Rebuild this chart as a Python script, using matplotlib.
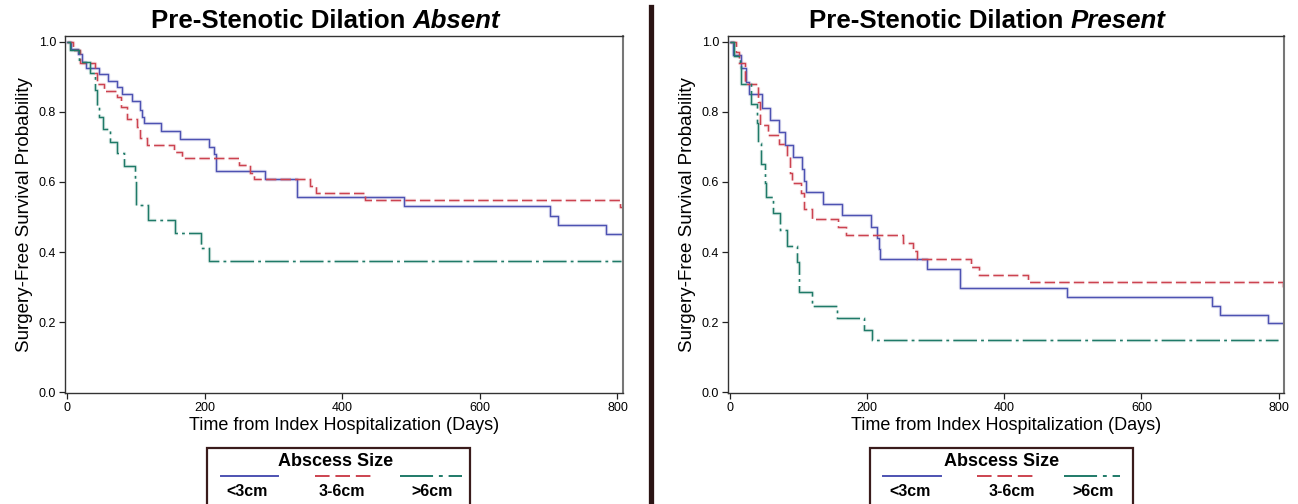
#!/usr/bin/env python3
# -*- coding: utf-8 -*-

"""
Kaplan-Meier curves: surgery-free survival by abscess size,
with and without pre-stenotic dilation
"""

import matplotlib.pyplot as plt
import matplotlib.patheffects as pe
from matplotlib.lines import Line2D
from matplotlib.patches import Rectangle

plt.rcParams['font.family'] = ['Liberation Sans', 'DejaVu Sans']

# --- data (days, survival) ---
# pre-stenotic dilation absent
absent_lt3_t = [0, 6, 15.5, 22, 28, 46, 59, 72, 80, 94.5, 105.5, 109, 111.5, 137, 164,
                206, 214, 217, 287, 334, 489, 701.5, 713, 783, 807]
absent_lt3_s = [1.0, 0.979, 0.964, 0.943, 0.926, 0.908, 0.889, 0.870, 0.850, 0.830, 0.805,
                0.784, 0.767, 0.746, 0.723, 0.700, 0.679, 0.630, 0.607, 0.556, 0.530,
                0.503, 0.478, 0.451, 0.451]
absent_3to6_t = [0, 8.7, 19.4, 41, 43.6, 54, 72.7, 78.5, 87, 101.7, 105.6, 116, 155, 167,
                 249.5, 266.5, 271, 352.6, 362, 432.6, 803, 807]
absent_3to6_s = [1.0, 0.975, 0.940, 0.910, 0.880, 0.859, 0.843, 0.814, 0.778, 0.757, 0.724,
                 0.705, 0.686, 0.669, 0.648, 0.626, 0.608, 0.588, 0.569, 0.549, 0.529, 0.529]
absent_gt6_t = [0, 4.8, 17, 33, 41, 43.6, 47, 52.3, 63, 72.7, 83.3, 98.4, 99.8, 117.7,
                156.5, 195, 207, 805]
absent_gt6_s = [1.0, 0.976, 0.941, 0.911, 0.862, 0.814, 0.786, 0.750, 0.714, 0.681, 0.645,
                0.605, 0.533, 0.492, 0.454, 0.412, 0.373, 0.373]

# pre-stenotic dilation present
present_lt3_t = [0, 4.9, 16, 22.8, 27.7, 47, 58.3, 71.4, 80.2, 92.3, 104.5, 108.4, 110.8,
                 136, 163.8, 205.6, 214.8, 217.2, 218.7, 286.7, 336, 491, 703.6, 714.7,
                 784.7, 807]
present_lt3_s = [1.0, 0.962, 0.924, 0.886, 0.850, 0.812, 0.776, 0.741, 0.705, 0.671, 0.638,
                 0.603, 0.571, 0.536, 0.505, 0.471, 0.441, 0.410, 0.380, 0.352, 0.297,
                 0.271, 0.246, 0.221, 0.197, 0.197]
present_3to6_t = [0, 8.3, 13.6, 21.9, 41.3, 43.7, 54.9, 72, 82.6, 87.5, 90, 103.5, 108, 120,
                  158, 168.6, 251.7, 267.3, 272, 352, 363, 434.8, 806, 807]
present_3to6_s = [1.0, 0.969, 0.938, 0.878, 0.829, 0.762, 0.733, 0.707, 0.671, 0.624, 0.597,
                  0.567, 0.522, 0.495, 0.471, 0.449, 0.426, 0.403, 0.379, 0.357, 0.335,
                  0.314, 0.296, 0.296]
present_gt6_t = [0, 5.8, 14.6, 16, 30.6, 39.9, 41.3, 45.2, 51, 52.5, 63.2, 72.9, 82.6, 97.2,
                 100.6, 119, 156.5, 195.4, 207.5, 799]
present_gt6_s = [1.0, 0.959, 0.938, 0.880, 0.822, 0.767, 0.710, 0.652, 0.597, 0.557, 0.510,
                 0.464, 0.416, 0.371, 0.286, 0.247, 0.212, 0.178, 0.148, 0.148]

group_labels = ['<3cm', '3-6cm', '>6cm']
x_ticks = [0, 200, 400, 600, 800]
y_ticks = [0.0, 0.2, 0.4, 0.6, 0.8, 1.0]

colors = ['#4d52b2', '#cc4350', '#1f7a68']
styles = ['-', (0, (7.5, 3.0)), (0, (17, 3.0, 2.0, 3.0))]
W, H = 1298, 504


def px(x, y):
    # pixel (from top-left) -> figure fraction
    return x / W, 1 - y / H


def km_panel(fig, rect, curves, title_main, title_it, title_x):
    ax = fig.add_axes(rect)
    for (t, s), c, ls in zip(curves, colors, styles):
        ax.step(t, s, where='post', color=c, ls=ls, lw=1.0,
                path_effects=[pe.Stroke(linewidth=2.4, foreground=c, alpha=0.2), pe.Normal()])
    ax.set_xlim(-3, 808)
    ax.set_ylim(-0.002, 1.016)
    ax.set_xticks(x_ticks)
    ax.set_yticks(y_ticks)
    ax.set_yticklabels(['%.1f' % v for v in y_ticks])
    ax.tick_params(labelsize=9, length=4, width=0.9, color='#222', pad=2.5)
    for sp in ax.spines.values():
        sp.set_color('#333333')
        sp.set_linewidth(1.0)
    ax.spines['right'].set_color('#777777')
    ax.spines['right'].set_linewidth(1.5)
    ax.set_xlabel('Time from Index Hospitalization (Days)', fontsize=13, labelpad=2)
    ax.set_ylabel('Surgery-Free Survival Probability', fontsize=13.5, labelpad=4)
    t1 = fig.text(*px(title_x, 21), title_main, fontsize=18.6, fontweight='bold',
                  ha='left', va='center')
    ax.annotate(title_it, xy=(1, 0), xycoords=t1, va='bottom', ha='left',
                fontsize=18.6, fontweight='bold', fontstyle='italic')
    return ax


def legend_box(fig, x0, x1, title_cx, samples, label_cx):
    y0 = 448
    fig.add_artist(Rectangle(px(x0, 506), (x1 - x0) / W, (506 - y0) / H,
                             fill=False, ec='#3a1c1c', lw=1.6, clip_on=False))
    fig.text(*px(title_cx, 462), 'Abscess Size', fontsize=13, fontweight='bold',
             ha='center', va='center')
    for (a, b), c, ls, lx, lab in zip(samples, colors, styles, label_cx, group_labels):
        xa, ya = px(a, 475.5)
        xb, _ = px(b, 475.5)
        fig.add_artist(Line2D([xa, xb], [ya, ya], color=c, ls=ls, lw=1.4))
        fig.text(*px(lx, 492), lab, fontsize=11.5, fontweight='bold', ha='center', va='center')


if __name__ == "__main__":
    fig = plt.figure(figsize=(W / 100, H / 100), dpi=100)

    km_panel(fig, [65 / W, 111 / H, 558 / W, 357 / H],
             [(absent_lt3_t, absent_lt3_s), (absent_3to6_t, absent_3to6_s),
              (absent_gt6_t, absent_gt6_s)],
             'Pre-Stenotic Dilation ', 'Absent', 151)
    km_panel(fig, [728 / W, 111 / H, 556 / W, 357 / H],
             [(present_lt3_t, present_lt3_s), (present_3to6_t, present_3to6_s),
              (present_gt6_t, present_gt6_s)],
             'Pre-Stenotic Dilation ', 'Present', 809)

    # divider between panels
    fig.add_artist(Line2D([650.5 / W] * 2, [0, 1 - 7 / H], color='#2b1414', lw=3.8))

    legend_box(fig, 207, 470, 336, [(221, 278), (315, 372), (400, 462)], [247, 342, 432])
    legend_box(fig, 870, 1133, 1002, [(883, 941), (977, 1036), (1064, 1120)],
               [910, 1012, 1093])

    plt.savefig('out.png', dpi=100)
